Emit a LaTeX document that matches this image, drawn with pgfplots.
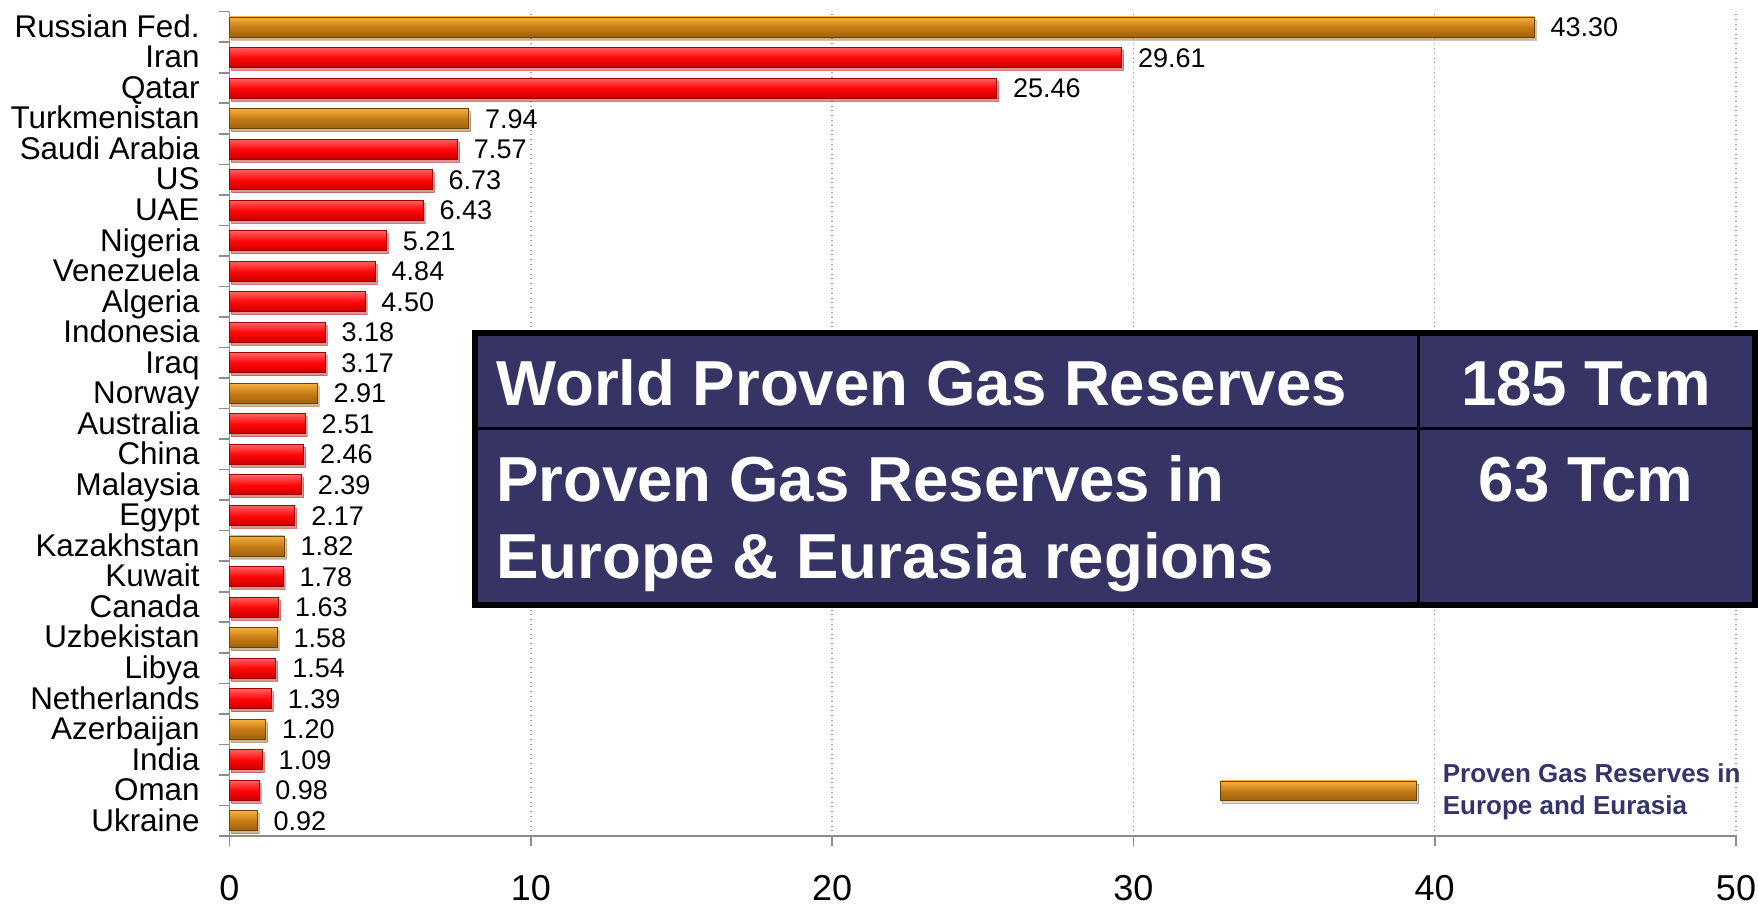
\documentclass[border=0pt]{standalone}
\usepackage{fontspec}
\setmainfont{Liberation Sans}
\usepackage{pgfplots}
\pgfplotsset{compat=1.18}
\usetikzlibrary{shadows}
\definecolor{redmain}{HTML}{FF0808}
\definecolor{redtop}{HTML}{FF6262}
\definecolor{redbot}{HTML}{C80000}
\definecolor{rededge}{HTML}{A00000}
\definecolor{ormain}{HTML}{C67C14}
\definecolor{ortop}{HTML}{F6B040}
\definecolor{orbot}{HTML}{A0620C}
\definecolor{oredge}{HTML}{6E4200}
\definecolor{boxblue}{HTML}{353464}
\definecolor{legtext}{HTML}{35346A}
\definecolor{axgray}{HTML}{8C8C8C}
\definecolor{gridgray}{HTML}{9A9A9A}
\pgfplotsset{
  redbar/.style={forget plot, draw=rededge, line width=0.4pt, top color=redtop, bottom color=redbot, middle color=redmain,
    drop shadow={shadow xshift=1pt, shadow yshift=-1.5pt, opacity=0.3}},
  orbar/.style={forget plot, draw=oredge, line width=0.4pt, top color=ortop, bottom color=orbot, middle color=ormain,
    drop shadow={shadow xshift=1pt, shadow yshift=-1.5pt, opacity=0.3}},
}
\begin{document}
\begin{tikzpicture}
\begin{axis}[
  name=ax,
  scale only axis,
  width=753.25pt, height=412.15pt,
  xmin=0, xmax=50, ymin=-0.5, ymax=26.5,
  clip=false,
  xbar, bar width=10pt, bar shift=0pt,
  axis x line*=bottom, axis y line*=left,
  axis line style={axgray, line width=0.8pt, -},
  xtick={0,10,...,50},
  minor xtick={0,10,...,50},
  ytick={0,...,26},
  yticklabels={Ukraine,Oman,India,Azerbaijan,Netherlands,Libya,Uzbekistan,Canada,Kuwait,Kazakhstan,Egypt,Malaysia,China,Australia,Norway,Iraq,Indonesia,Algeria,Venezuela,Nigeria,UAE,US,Saudi Arabia,Turkmenistan,Qatar,Iran,Russian Fed.},
  minor ytick={-0.5,0.5,...,26.5},
  major tick length=0pt, minor tick length=5pt,
  tick align=outside,
  minor tick style={axgray, line width=0.8pt},
  xmajorgrids,
  major grid style={gridgray, dotted, line width=0.7pt},
  /pgf/number format/assume math mode=true,
  xticklabel style={font=\fontsize{18}{18}\selectfont, anchor=base, inner sep=0pt, yshift=-32.3pt},
  yticklabel style={font=\fontsize{15.7}{16}\selectfont, anchor=base east, inner sep=0pt, xshift=-14.75pt, yshift=-5.2pt},
  point meta=x,
  nodes near coords={\pgfmathprintnumber[fixed,zerofill,precision=2]{\pgfplotspointmeta}},
  nodes near coords style={font=\fontsize{13.5}{14}\selectfont, anchor=base west, inner sep=0pt, xshift=8pt, yshift=-4.8pt, text=black},
  legend style={at={(axis description cs:0.6575,0.0552)}, anchor=west, draw=none, fill=none, inner sep=0pt,
    font=\bfseries\fontsize{13}{15.8}\selectfont, text=legtext, cells={anchor=west, align=left}},
]
% Europe & Eurasia (orange)
\addplot[orbar] coordinates {(43.30,26)};
\addplot[orbar] coordinates {(7.94,23)};
\addplot[orbar] coordinates {(2.91,14)};
\addplot[orbar] coordinates {(1.82,9)};
\addplot[orbar] coordinates {(1.58,6)};
\addplot[orbar] coordinates {(1.20,3)};
\addplot[orbar] coordinates {(0.92,0)};
% other countries (red)
\addplot[redbar] coordinates {(29.61,25)};
\addplot[redbar] coordinates {(25.46,24)};
\addplot[redbar] coordinates {(7.57,22)};
\addplot[redbar] coordinates {(6.73,21)};
\addplot[redbar] coordinates {(6.43,20)};
\addplot[redbar] coordinates {(5.21,19)};
\addplot[redbar] coordinates {(4.84,18)};
\addplot[redbar] coordinates {(4.50,17)};
\addplot[redbar] coordinates {(3.18,16)};
\addplot[redbar] coordinates {(3.17,15)};
\addplot[redbar] coordinates {(2.51,13)};
\addplot[redbar] coordinates {(2.46,12)};
\addplot[redbar] coordinates {(2.39,11)};
\addplot[redbar] coordinates {(2.17,10)};
\addplot[redbar] coordinates {(1.78,8)};
\addplot[redbar] coordinates {(1.63,7)};
\addplot[redbar] coordinates {(1.54,5)};
\addplot[redbar] coordinates {(1.39,4)};
\addplot[redbar] coordinates {(1.09,2)};
\addplot[redbar] coordinates {(0.98,1)};
\addlegendimage{legend image code/.code={
  \fill[draw=oredge, line width=0.4pt, top color=ortop, bottom color=orbot, middle color=ormain,
    drop shadow={shadow xshift=1pt, shadow yshift=-1.5pt, opacity=0.3}] (0pt,-4.75pt) rectangle (98pt,4.75pt);
  \path[draw=none, fill=none] (0pt,0pt) -- (109pt,0pt);}}
\addlegendentry{Proven Gas Reserves in\\Europe and Eurasia}
% summary box
\draw[line width=3pt, black, fill=boxblue] (axis cs:8.15,15.98) rectangle (axis cs:50.63,7.08);
\draw[line width=1.5pt, black] (axis cs:39.46,15.98) -- (axis cs:39.46,7.08);
\draw[line width=1.5pt, black] (axis cs:8.15,12.85) -- (axis cs:50.63,12.85);
\begin{scope}[every node/.style={inner sep=0pt, text=white, font=\bfseries\fontsize{31.8}{38}\selectfont}]
\node[anchor=base west] at (axis cs:8.84,13.585) {World Proven Gas Reserves};
\node[anchor=base] at (axis cs:45.02,13.585) {185 Tcm};
\node[anchor=base west] at (axis cs:8.84,10.44) {Proven Gas Reserves in};
\node[anchor=base west] at (axis cs:8.84,7.95) {Europe \& Eurasia regions};
\node[anchor=base] at (axis cs:45.02,10.44) {63 Tcm};
\end{scope}
\end{axis}
\pgfresetboundingbox
\path ([xshift=-114.75pt,yshift=-35.5pt]ax.south west) rectangle ([xshift=11pt,yshift=5.85pt]ax.north east);
\end{tikzpicture}
\end{document}
